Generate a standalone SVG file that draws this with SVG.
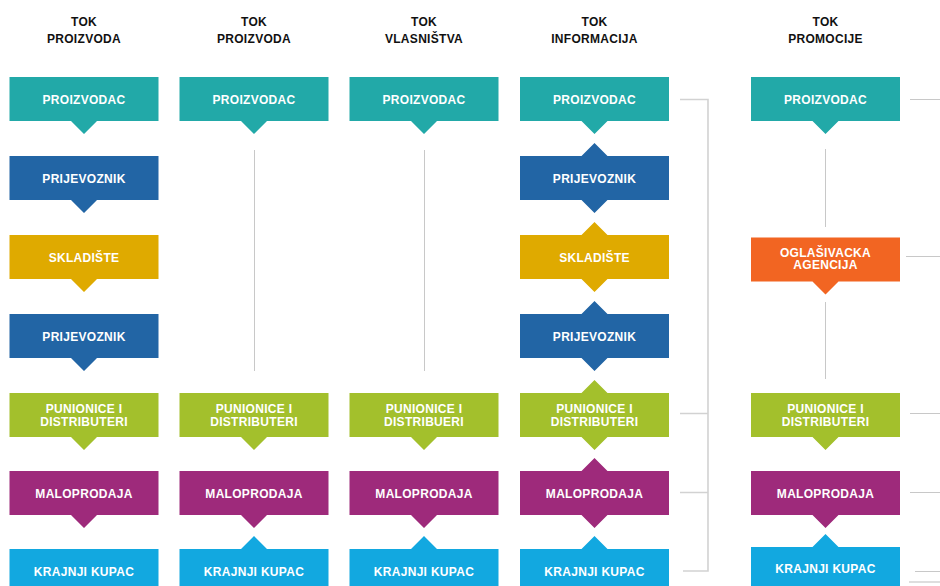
<svg xmlns="http://www.w3.org/2000/svg" xmlns:xlink="http://www.w3.org/1999/xlink" width="940" height="586" viewBox="0 0 940 586">
<style>
.hd{font-family:"Liberation Sans",Arial,sans-serif;font-weight:bold;font-size:12px;fill:#111;text-anchor:middle;letter-spacing:0.3px}
.lb{font-family:"Liberation Sans",Arial,sans-serif;font-weight:bold;font-size:12px;fill:#fff;text-anchor:middle;letter-spacing:0.3px}
.ln{stroke:#c8c8c8;stroke-width:1;fill:none}
.br{stroke:#d2d2d2;stroke-width:1.6;fill:none}
.teal{fill:#22a9a8}.blue{fill:#2265a5}.gold{fill:#dfaa00}.green{fill:#a3c02c}.purple{fill:#9e2a7b}.cyan{fill:#12a8e0}.orange{fill:#f26522}
</style>
<defs>
<path id="bd" d="M0,0 H149 V44 H87.5 L74.5,57 L61.5,44 H0 Z"/>
<path id="bu" d="M0,0 H61.5 L74.5,-13 L87.5,0 H149 V44 H0 Z"/>
<path id="bb" d="M0,0 H61.5 L74.5,-13 L87.5,0 H149 V44 H87.5 L74.5,57 L61.5,44 H0 Z"/>
<path id="bn" d="M0,0 H149 V44 H0 Z"/>
</defs>
<rect width="940" height="586" fill="#fff"/>

<g id="headers">
<text class="hd" x="84" y="25.5">TOK</text><text class="hd" x="84" y="42.5">PROIZVODA</text>
<text class="hd" x="254" y="25.5">TOK</text><text class="hd" x="254" y="42.5">PROIZVODA</text>
<text class="hd" x="424" y="25.5">TOK</text><text class="hd" x="424" y="42.5">VLASNIŠTVA</text>
<text class="hd" x="594.5" y="25.5">TOK</text><text class="hd" x="594.5" y="42.5">INFORMACIJA</text>
<text class="hd" x="825.5" y="25.5">TOK</text><text class="hd" x="825.5" y="42.5">PROMOCIJE</text>
</g>

<g id="connectors">
<line class="ln" x1="254.5" y1="150" x2="254.5" y2="371"/>
<line class="ln" x1="424.5" y1="150" x2="424.5" y2="371"/>
<line class="ln" x1="825.5" y1="149" x2="825.5" y2="227"/>
<line class="ln" x1="825.5" y1="302" x2="825.5" y2="379"/>
<path class="br" d="M680,99.5 H708 V571 H683 M680,413.5 H708 M680,492.5 H708"/>
<path class="ln" d="M910,99.5 H940 M906,256.5 H940 M910,413.5 H940 M910,492.5 H940 M915,571.5 H940"/>
<line x1="909" y1="582" x2="940" y2="582" stroke="#d6d6d6" stroke-width="1.6"/>
</g>

<!-- Column 1 -->
<g id="c1-proizvodac"><use href="#bd" class="teal" x="9.5" y="77"/><text class="lb" x="84" y="103.5">PROIZVODAC</text></g>
<g id="c1-prijevoznik1"><use href="#bd" class="blue" x="9.5" y="156"/><text class="lb" x="84" y="182.5">PRIJEVOZNIK</text></g>
<g id="c1-skladiste"><use href="#bd" class="gold" x="9.5" y="235"/><text class="lb" x="84" y="261.5">SKLADIŠTE</text></g>
<g id="c1-prijevoznik2"><use href="#bd" class="blue" x="9.5" y="314"/><text class="lb" x="84" y="340.5">PRIJEVOZNIK</text></g>
<g id="c1-punionice"><use href="#bd" class="green" x="9.5" y="393"/><text class="lb" x="84" y="413">PUNIONICE I</text><text class="lb" x="84" y="425.5">DISTRIBUTERI</text></g>
<g id="c1-maloprodaja"><use href="#bd" class="purple" x="9.5" y="471"/><text class="lb" x="84" y="497.5">MALOPRODAJA</text></g>
<g id="c1-kupac"><use href="#bn" class="cyan" x="9.5" y="549"/><text class="lb" x="84" y="575.5">KRAJNJI KUPAC</text></g>

<!-- Column 2 -->
<g id="c2-proizvodac"><use href="#bd" class="teal" x="179.5" y="77"/><text class="lb" x="254" y="103.5">PROIZVODAC</text></g>
<g id="c2-punionice"><use href="#bd" class="green" x="179.5" y="393"/><text class="lb" x="254" y="413">PUNIONICE I</text><text class="lb" x="254" y="425.5">DISTRIBUTERI</text></g>
<g id="c2-maloprodaja"><use href="#bd" class="purple" x="179.5" y="471"/><text class="lb" x="254" y="497.5">MALOPRODAJA</text></g>
<g id="c2-kupac"><use href="#bu" class="cyan" x="179.5" y="549"/><text class="lb" x="254" y="575.5">KRAJNJI KUPAC</text></g>

<!-- Column 3 -->
<g id="c3-proizvodac"><use href="#bd" class="teal" x="349.5" y="77"/><text class="lb" x="424" y="103.5">PROIZVODAC</text></g>
<g id="c3-punionice"><use href="#bd" class="green" x="349.5" y="393"/><text class="lb" x="424" y="413">PUNIONICE I</text><text class="lb" x="424" y="425.5">DISTRIBUERI</text></g>
<g id="c3-maloprodaja"><use href="#bd" class="purple" x="349.5" y="471"/><text class="lb" x="424" y="497.5">MALOPRODAJA</text></g>
<g id="c3-kupac"><use href="#bu" class="cyan" x="349.5" y="549"/><text class="lb" x="424" y="575.5">KRAJNJI KUPAC</text></g>

<!-- Column 4 -->
<g id="c4-proizvodac"><use href="#bd" class="teal" x="520" y="77"/><text class="lb" x="594.5" y="103.5">PROIZVODAC</text></g>
<g id="c4-prijevoznik1"><use href="#bb" class="blue" x="520" y="156"/><text class="lb" x="594.5" y="182.5">PRIJEVOZNIK</text></g>
<g id="c4-skladiste"><use href="#bb" class="gold" x="520" y="235"/><text class="lb" x="594.5" y="261.5">SKLADIŠTE</text></g>
<g id="c4-prijevoznik2"><use href="#bb" class="blue" x="520" y="314"/><text class="lb" x="594.5" y="340.5">PRIJEVOZNIK</text></g>
<g id="c4-punionice"><use href="#bb" class="green" x="520" y="393"/><text class="lb" x="594.5" y="413">PUNIONICE I</text><text class="lb" x="594.5" y="425.5">DISTRIBUTERI</text></g>
<g id="c4-maloprodaja"><use href="#bb" class="purple" x="520" y="471"/><text class="lb" x="594.5" y="497.5">MALOPRODAJA</text></g>
<g id="c4-kupac"><use href="#bu" class="cyan" x="520" y="549"/><text class="lb" x="594.5" y="575.5">KRAJNJI KUPAC</text></g>

<!-- Column 5 -->
<g id="c5-proizvodac"><use href="#bd" class="teal" x="751" y="77"/><text class="lb" x="825.5" y="103.5">PROIZVODAC</text></g>
<g id="c5-agencija"><use href="#bd" class="orange" x="751" y="237.5"/><text class="lb" x="825.5" y="256.5">OGLAŠIVACKA</text><text class="lb" x="825.5" y="269">AGENCIJA</text></g>
<g id="c5-punionice"><use href="#bd" class="green" x="751" y="393"/><text class="lb" x="825.5" y="413">PUNIONICE I</text><text class="lb" x="825.5" y="425.5">DISTRIBUTERI</text></g>
<g id="c5-maloprodaja"><use href="#bd" class="purple" x="751" y="471"/><text class="lb" x="825.5" y="497.5">MALOPRODAJA</text></g>
<g id="c5-kupac"><use href="#bu" class="cyan" x="751" y="547"/><text class="lb" x="825.5" y="573">KRAJNJI KUPAC</text></g>
</svg>
